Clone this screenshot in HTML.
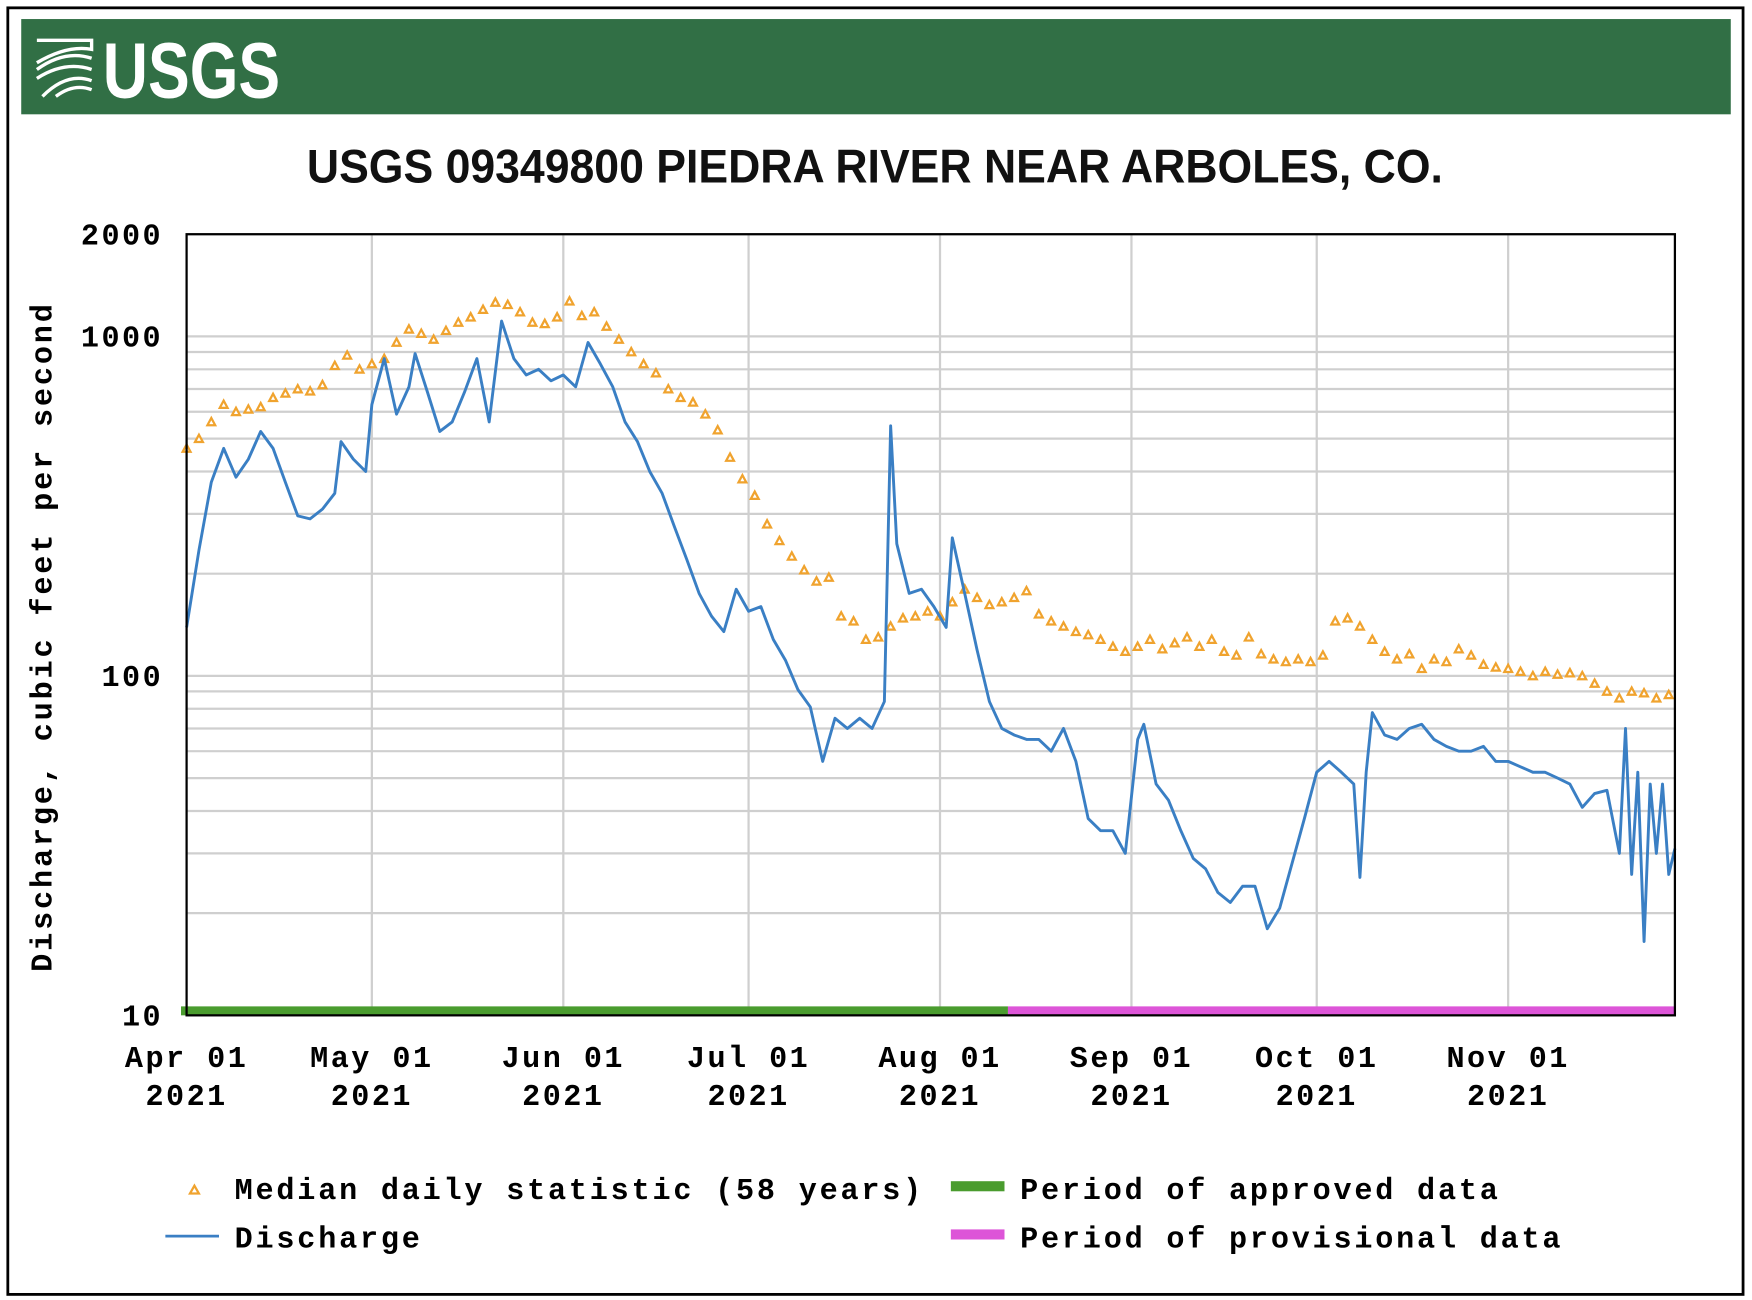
<!DOCTYPE html>
<html><head><meta charset="utf-8"><style>
html,body{margin:0;padding:0;background:#fff;}
svg{display:block;}
</style></head><body>
<svg id="chart" width="1752" height="1300" viewBox="0 0 1568 1160" preserveAspectRatio="none" xmlns="http://www.w3.org/2000/svg">
<rect x="7" y="7" width="1553" height="1148" fill="#fff" stroke="#000" stroke-width="2.5"/>
<rect x="19" y="17" width="1530" height="85" fill="#316f45"/>
<g>
<g fill="none" stroke="#fff" stroke-width="3">
<path d="M33 36 L82 36 L82 44 Q60 40 33 56"/>
<path d="M33 62 Q58 44 82 52"/>
<path d="M33 70 Q58 54 82 62"/>
<path d="M38 86 Q60 64 82 72"/>
<path d="M50 86 Q66 74 82 80"/>
</g>
<text x="92" y="87" font-family="Liberation Sans, sans-serif" font-weight="bold" font-size="70" fill="#fff" transform="translate(92 0) scale(0.8 1) translate(-92 0)">USGS</text>
</g>
<text x="783" y="163" text-anchor="middle" font-family="Liberation Sans Narrow, Liberation Sans, sans-serif" font-weight="bold" font-size="42" fill="#111" transform="translate(783 0) scale(0.95 1) translate(-783 0)">USGS 09349800 PIEDRA RIVER NEAR ARBOLES, CO.</text>
<g id="grid"></g>
<g id="marks"></g>
<rect x="167" y="209" width="1332" height="697" fill="none" stroke="#000" stroke-width="2"/>
<g id="axes"></g>
<text transform="translate(46 568) rotate(-90)" text-anchor="middle" font-family="Liberation Mono, monospace" font-weight="bold" font-size="27" letter-spacing="2.5" fill="#000">Discharge, cubic feet per second</text>
<g font-family="Liberation Mono, monospace" font-weight="bold" font-size="27" letter-spacing="2.5" fill="#000">
<g>
<path d="M170 1065 L174 1058 L178 1065 Z" fill="#fff" stroke="#f0a32e" stroke-width="2"/>
<text x="210" y="1070">Median daily statistic (58 years)</text></g>
<g>
<line x1="148" y1="1103" x2="196" y2="1103" stroke="#3a7fc4" stroke-width="2.5"/>
<text x="210" y="1113">Discharge</text></g>
<g>
<rect x="851" y="1054" width="48" height="9" fill="#4a9c2e"/>
<text x="913" y="1070">Period of approved data</text></g>
<g>
<rect x="851" y="1097" width="48" height="9" fill="#dd55d8"/>
<text x="913" y="1113">Period of provisional data</text></g>
</g>
</svg>
<script>
const medianDays=[0,2,4,6,8,10,12,14,16,18,20,22,24,26,28,30,32,34,36,38,40,42,44,46,48,50,52,54,56,58,60,62,64,66,68,70,72,74,76,78,80,82,84,86,88,90,92,94,96,98,100,102,104,106,108,110,112,114,116,118,120,122,124,126,128,130,132,134,136,138,140,142,144,146,148,150,152,154,156,158,160,162,164,166,168,170,172,174,176,178,180,182,184,186,188,190,192,194,196,198,200,202,204,206,208,210,212,214,216,218,220,222,224,226,228,230,232,234,236,238,240];
const medianValues=[468,500,560,630,600,610,620,660,680,700,690,720,820,880,800,830,860,960,1050,1020,980,1040,1100,1140,1200,1260,1240,1180,1100,1090,1140,1270,1150,1180,1070,980,900,830,780,700,660,640,590,530,440,380,340,280,250,225,205,190,195,150,145,128,130,140,148,150,155,150,165,180,170,162,165,170,178,152,145,140,135,132,128,122,118,122,128,120,125,130,122,128,118,115,130,116,112,110,112,110,115,145,148,140,128,118,112,116,105,112,110,120,115,108,106,105,103,100,103,101,102,100,95,90,86,90,89,86,88];
const dischargeDays=[0,2,4,6,8,10,12,14,16,18,20,22,24,25,27,29,30,32,34,36,37,39,41,43,45,47,49,51,53,55,57,59,61,63,65,67,69,71,73,75,77,79,81,83,85,87,89,91,93,95,97,99,101,103,105,107,109,111,113,114,115,117,119,121,123,124,126,128,130,132,134,136,138,140,142,144,146,148,150,152,154,155,157,159,161,163,165,167,169,171,173,175,177,179,181,183,185,187,189,190,191,192,194,196,198,200,202,204,206,208,210,212,214,216,218,220,222,224,226,228,230,232,233,234,235,236,237,238,239,240,241];
const dischargeValues=[139,235,372,468,385,435,525,468,372,296,290,310,345,490,435,400,630,860,590,710,890,685,525,560,685,860,560,1110,860,770,800,740,770,710,960,830,710,560,490,400,345,275,220,175,150,135,180,155,160,128,111,91,81,56,75,70,75,70,84,545,245,175,180,160,139,255,175,119,84,70,67,65,65,60,70,56,38,35,35,30,65,72,48,43,35,29,27,23,21.5,24,24,18,20.7,28,38,52,56,52,48,25.5,52,78,67,65,70,72,65,62,60,60,62,56,56,54,52,52,50,48,41,45,46,30,70,26,52,16.5,48,30,48,26,31];
const yTickValues=[10,100,1000,2000];
const yTickLabels=["10","100","1000","2000"];
const xTickDays=[0,30,61,91,122,153,183,214];
const xTickLabels=["Apr 01","May 01","Jun 01","Jul 01","Aug 01","Sep 01","Oct 01","Nov 01"];
const approvedEndDay=133;
const lastDay=241;

const NS="http://www.w3.org/2000/svg";
const X0=167,X1=1499,Y0=906,Y1=209;
const xScale=d=>X0+(X1-X0)*d/lastDay;
const yScale=v=>Y0-(Y0-Y1)*Math.log10(v/10)/Math.log10(200);
function mk(tag,attrs,parent){const e=document.createElementNS(NS,tag);for(const k in attrs)e.setAttribute(k,attrs[k]);parent.appendChild(e);return e;}
const grid=document.getElementById('grid'),marks=document.getElementById('marks'),axes=document.getElementById('axes');
for(const dec of [10,100,1000]){for(let m=1;m<=9;m++){const v=dec*m;if(v>2000||v===10)continue;
 const l=mk('line',{x1:X0,x2:X1,y1:yScale(v),y2:yScale(v),stroke:'#cfcfcf','stroke-width':2},grid);
 
 }}
xTickDays.forEach((d,i)=>{if(d===0)return;
 const l=mk('line',{x1:xScale(d),x2:xScale(d),y1:Y1,y2:Y0,stroke:'#cfcfcf','stroke-width':2},grid);
 
 });
medianDays.forEach((d,i)=>{const x=xScale(d),y=yScale(medianValues[i]);
 const p=mk('path',{d:`M${x-3.5} ${y+3} L${x} ${y-3.5} L${x+3.5} ${y+3} Z`,fill:'#fff',stroke:'#f0a32e','stroke-width':2},marks);
 
 });
const pts=dischargeDays.map((d,i)=>xScale(d).toFixed(1)+','+yScale(dischargeValues[i]).toFixed(1)).join(' ');
const pl=mk('polyline',{points:pts,fill:'none',stroke:'#3a7fc4','stroke-width':2.6,'stroke-linejoin':'round'},marks);


const ab=mk('rect',{x:X0-5,y:Y0-8,width:xScale(approvedEndDay)-X0+5,height:8,fill:'#4a9c2e'},marks);


const pb=mk('rect',{x:xScale(approvedEndDay),y:Y0-8,width:X1-xScale(approvedEndDay),height:8,fill:'#dd55d8'},marks);


yTickValues.forEach((v,i)=>{const t=mk('text',{x:146,y:yScale(v)+9,'text-anchor':'end','font-family':'Liberation Mono, monospace','font-weight':'bold','font-size':27,'letter-spacing':2.2,fill:'#000'},axes);
 t.textContent=yTickLabels[i];
 
 });
xTickDays.forEach((d,i)=>{const x=xScale(d);
 const t=mk('text',{x:x,y:952,'text-anchor':'middle','font-family':'Liberation Mono, monospace','font-weight':'bold','font-size':27,'letter-spacing':2.2,fill:'#000'},axes);
 t.textContent=xTickLabels[i];
 
 
 const t2=mk('text',{x:x,y:986,'text-anchor':'middle','font-family':'Liberation Mono, monospace','font-weight':'bold','font-size':27,'letter-spacing':2.2,fill:'#000'},axes);
 t2.textContent='2021';
 
 });
</script>
</body></html>
